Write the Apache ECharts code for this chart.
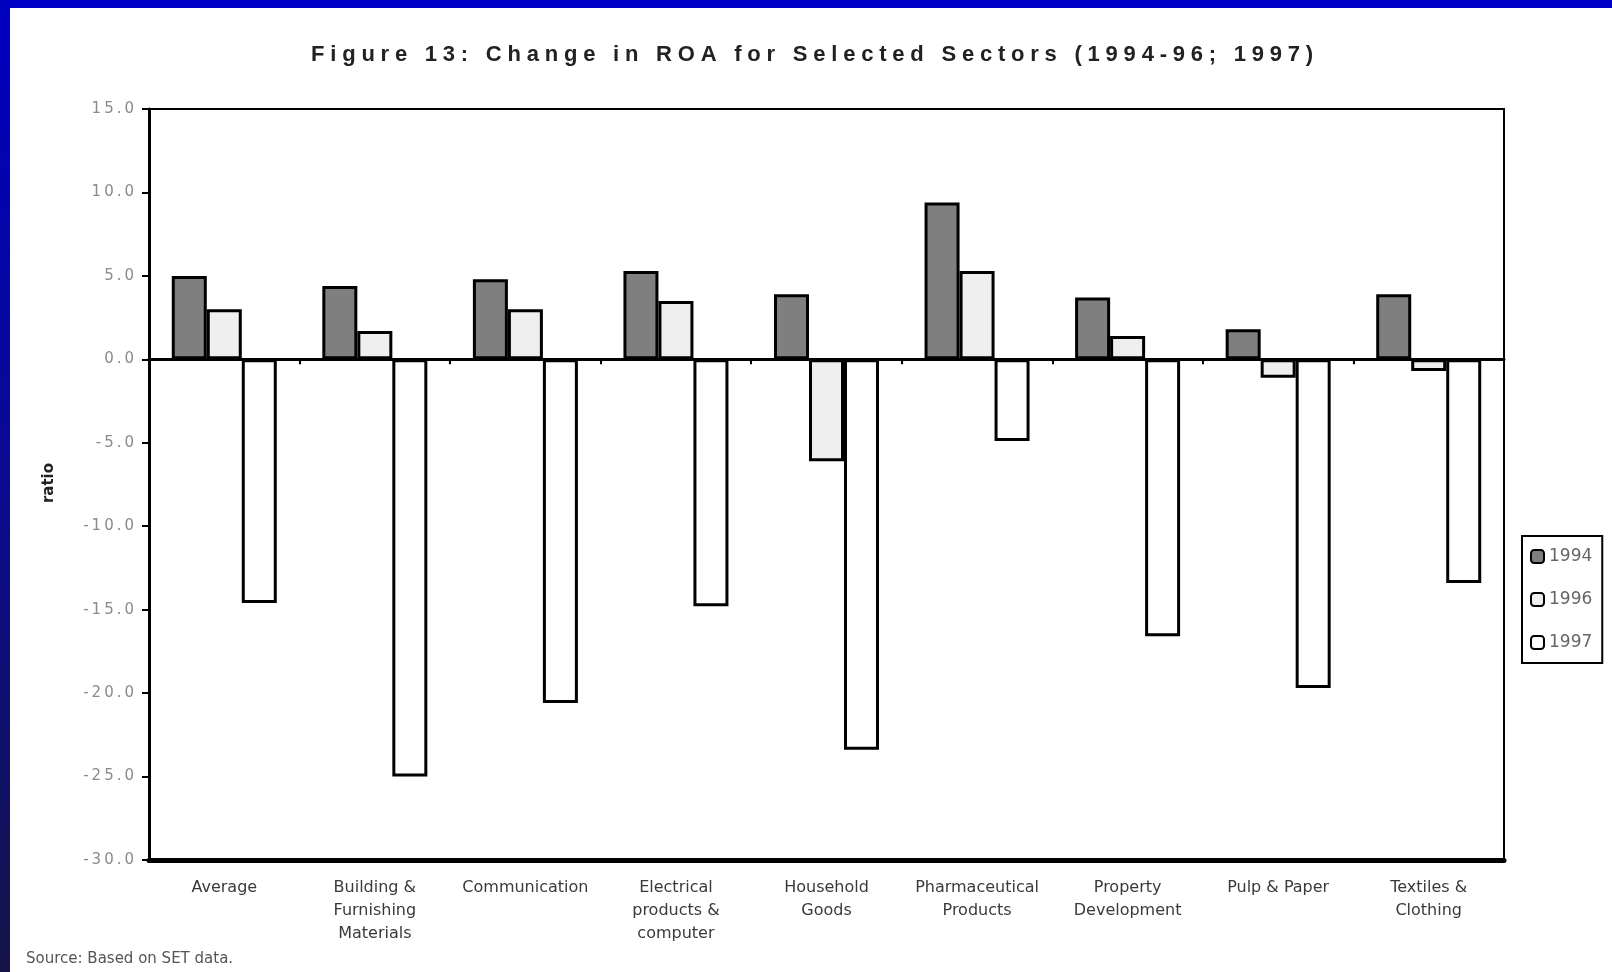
<!DOCTYPE html>
<html>
<head>
<meta charset="utf-8">
<script src="https://cdn.jsdelivr.net/npm/echarts@6/dist/echarts.min.js"></script>
<style>
  html, body { margin: 0; padding: 0; background: #ffffff; }
  #chart { width: 1612px; height: 972px; }
</style>
</head>
<body>
<div id="chart"></div>
<script>
const categories = [
  'Average',
  'Building &\nFurnishing\nMaterials',
  'Communication',
  'Electrical\nproducts &\ncomputer',
  'Household\nGoods',
  'Pharmaceutical\nProducts',
  'Property\nDevelopment',
  'Pulp & Paper',
  'Textiles &\nClothing'
];
const seriesNames = ['1994', '1996', '1997'];
const values1994 = [5.0, 4.4, 4.8, 5.3, 3.9, 9.4, 3.7, 1.8, 3.9];
const values1996 = [3.0, 1.7, 3.0, 3.5, -6.1, 5.3, 1.4, -1.1, -0.7];
const values1997 = [-14.6, -25.0, -20.6, -14.8, -23.4, -4.9, -16.6, -19.7, -13.4];
const yTicks = { min: -30, max: 15, interval: 5 };
const titleText = 'Figure 13: Change in ROA for Selected Sectors (1994-96; 1997)';
const yAxisName = 'ratio';
const sourceText = 'Source: Based on SET data.';

// spaced lettering like the scanned original (title and y tick labels only)
const TITLE_WIDTH = 1008;
const origFillText = CanvasRenderingContext2D.prototype.fillText;
function callFill(ctx, t, x, y, mw) {
  return (mw === undefined) ? origFillText.call(ctx, t, x, y) : origFillText.call(ctx, t, x, y, mw);
}
CanvasRenderingContext2D.prototype.fillText = function (t, x, y, mw) {
  let spacing = null;
  if (t === titleText) {
    const w = this.measureText(t).width;
    spacing = Math.max(0, (TITLE_WIDTH - w) / t.length);
  } else if (/^-?\d+\.0$/.test(t)) {
    spacing = 3;
  }
  if (spacing === null) return callFill(this, t, x, y, mw);
  this.save();
  const f = this.font;
  this.letterSpacing = spacing.toFixed(2) + 'px';
  this.font = f;
  const r = callFill(this, t, x, y, mw);
  this.restore();
  const f2 = this.font;
  this.letterSpacing = '0px';
  this.font = f2;
  return r;
};

const chart = echarts.init(document.getElementById('chart'));
const barStyle = (fill) => ({ color: fill, borderColor: '#000', borderWidth: 3 });

chart.setOption({
  backgroundColor: '#ffffff',
  animation: false,
  graphic: [
    { type: 'rect', left: 0, top: 0, z: 100, shape: { width: 1612, height: 8 }, style: { fill: '#0000c6' } },
    { type: 'rect', left: 0, top: 0, z: 100, shape: { width: 10, height: 972 },
      style: { fill: new echarts.graphic.LinearGradient(0, 0, 0, 1, [
        { offset: 0, color: '#0000c0' }, { offset: 0.5, color: '#0a0a90' }, { offset: 1, color: '#141448' }
      ]) } },
    { type: 'text', x: 815, y: 55, z: 100,
      style: { text: titleText, fontFamily: 'Liberation Sans', fontWeight: 'bold', fontSize: 22, fill: '#222', align: 'center', verticalAlign: 'middle' } },
    { type: 'text', left: 26, top: 952, z: 100,
      style: { text: sourceText, fontFamily: 'DejaVu Sans', fontSize: 15, fill: '#555' } },
    { type: 'text', x: 49, y: 483, rotation: Math.PI / 2, z: 100,
      style: { text: yAxisName, fontFamily: 'DejaVu Sans', fontWeight: 'bold', fontSize: 15, fill: '#222', align: 'center', verticalAlign: 'middle' } }
  ],
  legend: {
    data: seriesNames,
    orient: 'vertical',
    left: 1522,
    top: 536,
    padding: [12, 10, 12, 8],
    itemWidth: 13,
    itemHeight: 13,
    itemGap: 26,
    borderColor: '#000',
    borderWidth: 2,
    backgroundColor: '#fff',
    textStyle: { fontFamily: 'DejaVu Sans', fontSize: 17, color: '#666' }
  },
  grid: {
    left: 149, right: 108, top: 109, bottom: 112,
    show: true, borderColor: '#000', borderWidth: 2, backgroundColor: 'transparent'
  },
  xAxis: [
    {
      type: 'category',
      data: categories,
      position: 'bottom',
      axisLine: { show: true, onZero: false, lineStyle: { color: '#000', width: 5 } },
      axisTick: { show: false },
      axisLabel: { interval: 0, margin: 16, fontFamily: 'DejaVu Sans', fontSize: 16, color: '#3a3a3a', lineHeight: 23 }
    },
    {
      type: 'category',
      data: categories,
      position: 'top',
      axisLine: { show: true, onZero: true, lineStyle: { color: '#000', width: 3 } },
      axisTick: { show: true, inside: true, length: 5, lineStyle: { color: '#000', width: 2 } },
      axisLabel: { show: false }
    }
  ],
  yAxis: {
    type: 'value',
    min: yTicks.min,
    max: yTicks.max,
    interval: yTicks.interval,
    axisLine: { show: true, lineStyle: { color: '#000', width: 3 } },
    axisTick: { show: true, length: 7, lineStyle: { color: '#000', width: 2 } },
    splitLine: { show: false },
    axisLabel: { margin: 12, fontFamily: 'DejaVu Sans', fontSize: 15, color: '#8a8a8a',
      formatter: (v) => v.toFixed(1) }
  },
  series: [
    { name: seriesNames[0], type: 'bar', data: values1994, barWidth: 35, barGap: '0%', itemStyle: barStyle('#7f7f7f') },
    { name: seriesNames[1], type: 'bar', data: values1996, barWidth: 35, barGap: '0%', itemStyle: barStyle('#efefef') },
    { name: seriesNames[2], type: 'bar', data: values1997, barWidth: 35, barGap: '0%', itemStyle: barStyle('#ffffff') }
  ]
});
</script>
</body>
</html>
